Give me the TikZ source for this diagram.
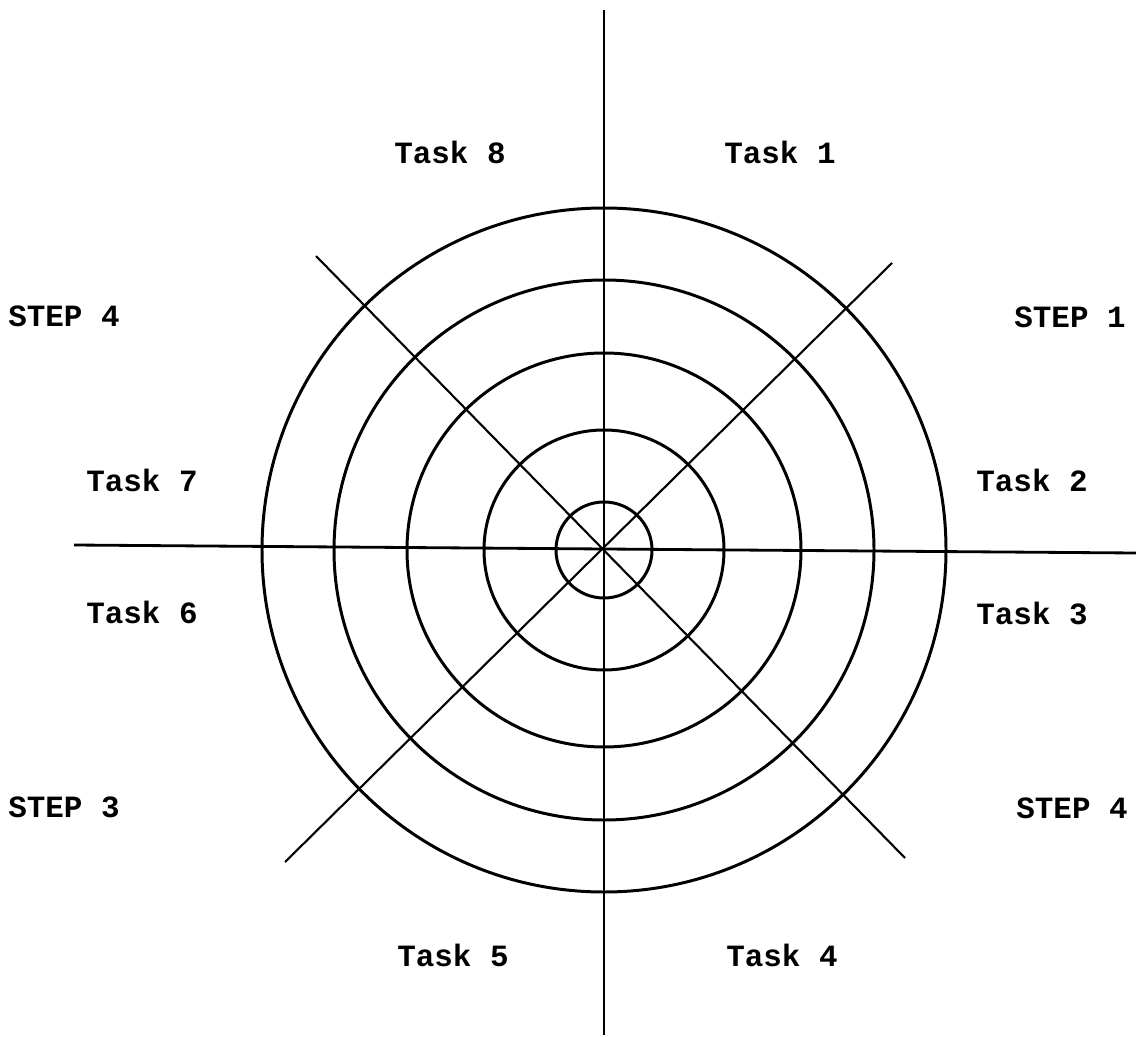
\documentclass[tikz,border=0pt]{standalone}
\usepackage{fontspec}
\newfontfamily\typefont{Liberation Mono}
\usepackage{tikz}

\tikzset{
  ring/.style={line width=1.7pt},
  axis/.style={line width=1.2pt},
  lbl/.style={font=\typefont\bfseries\fontsize{17.6}{20}\selectfont, inner sep=0pt}
}

\begin{document}
\begin{tikzpicture}[x=0.02cm, y=-0.02cm]
\useasboundingbox (0,0) rectangle (1136,1037);

% centre and line ends
\coordinate (c) at (604,550);
\coordinate (n) at (604,10);
\coordinate (s) at (604,1035);
\coordinate (w) at (74,545);
\coordinate (e) at (1136,553);
\coordinate (nw) at (316,256);
\coordinate (se) at (905,858);
\coordinate (sw) at (285,862);
\coordinate (ne) at (892,263);

% rings
\foreach \r in {48,120,197,270,342}
  \draw[ring] (c) circle (\r);

% spokes
\draw[axis] (n) -- (s);
\draw[axis, line width=1.6pt] (w) -- (e);
\draw[axis] (nw) -- (se);
\draw[axis] (sw) -- (ne);

% labels
\node[lbl] (t8) at (450,152) {Task 8};
\node[lbl] (t1) at (780,152) {Task 1};
\node[lbl] (s4a) at (64,316) {STEP 4};
\node[lbl] (s1) at (1070,317) {STEP 1};
\node[lbl] (t7) at (142,480) {Task 7};
\node[lbl] (t2) at (1032,480) {Task 2};
\node[lbl] (t6) at (142,612) {Task 6};
\node[lbl] (t3) at (1032,613) {Task 3};
\node[lbl] (s3) at (64,807) {STEP 3};
\node[lbl] (s4b) at (1072,808) {STEP 4};
\node[lbl] (t5) at (453,955) {Task 5};
\node[lbl] (t4) at (782,955) {Task 4};

\end{tikzpicture}
\end{document}
